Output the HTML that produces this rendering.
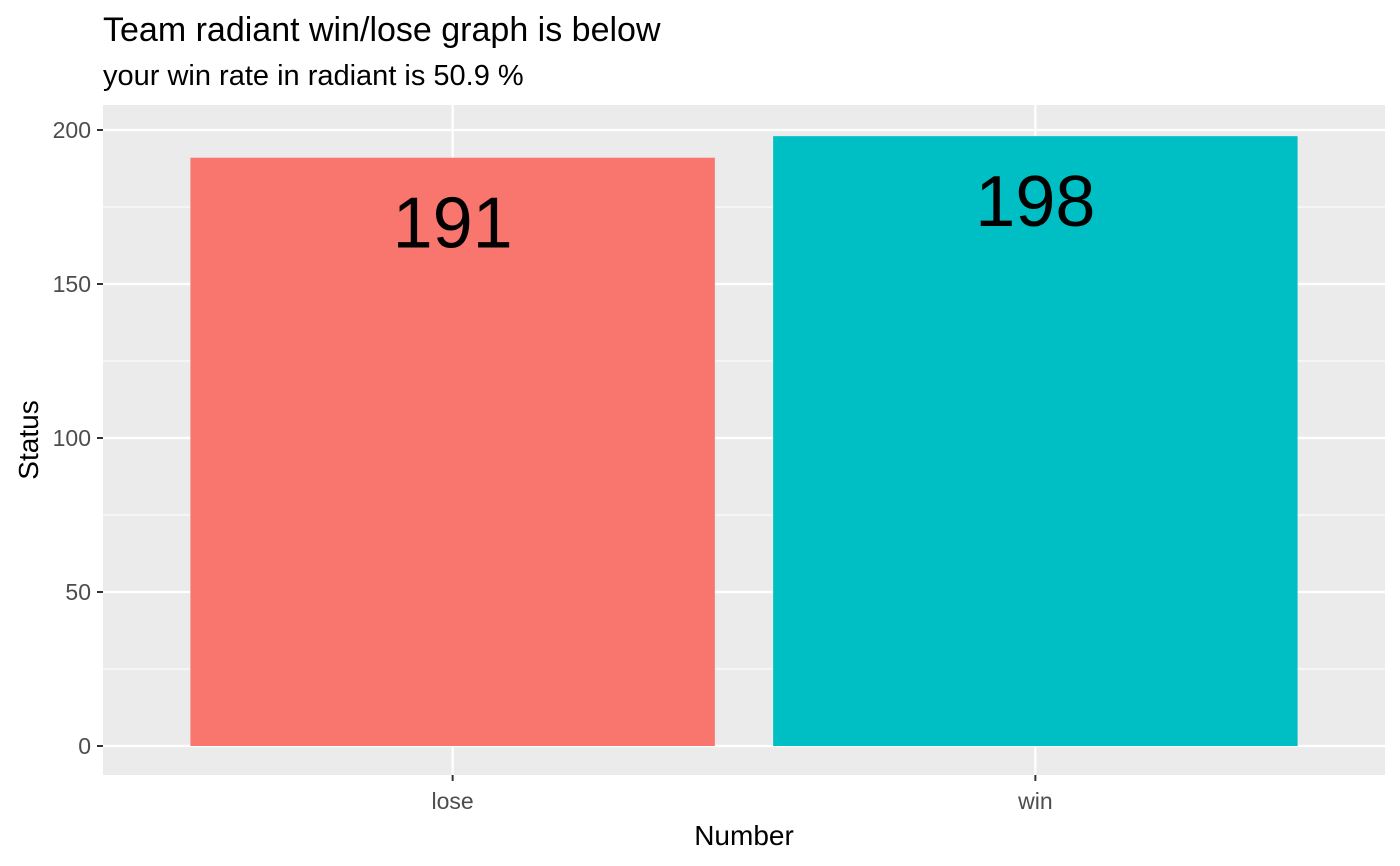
<!DOCTYPE html>
<html><head><meta charset="utf-8"><style>
html,body{margin:0;padding:0;background:#fff}
svg{display:block;font-family:"Liberation Sans",Arial,sans-serif}
</style></head><body>
<svg id="chart" width="1400" height="866" viewBox="0 0 1400 866">
<text x="103" y="41" font-size="34" fill="#000">Team radiant win/lose graph is below</text>
<text x="103" y="85" font-size="29" fill="#000">your win rate in radiant is 50.9 %</text>
<rect x="103" y="105" width="1282" height="670" fill="#ebebeb"/>
<g id="grid"></g>
<g id="bars"></g>
<g id="axes"></g>
<text x="744" y="845" font-size="28" text-anchor="middle" fill="#000">Number</text>
<text transform="translate(38,440) rotate(-90)" font-size="28" text-anchor="middle" fill="#000">Status</text>
</svg>
<script>
const categories = ["lose", "win"];
const values = [191, 198];
const yTicks = [0, 50, 100, 150, 200];
const barColors = ["#f8766d", "#00bfc4"];

const NS = "http://www.w3.org/2000/svg";
const px0 = 103, px1 = 1385, y0px = 746, y200px = 130;
const yMax = 200;
function ys(v){ return y0px - (v / yMax) * (y0px - y200px); }
const step = (px1 - px0) / (categories.length + 0.2);
function xs(i){ return px0 + step * (0.6 + i); }
const bw = step * 0.9;
function mk(tag, attrs, parent){
  const e = document.createElementNS(NS, tag);
  for (const k in attrs) e.setAttribute(k, attrs[k]);
  parent.appendChild(e); return e;
}
const grid = document.getElementById("grid");
const bars = document.getElementById("bars");
const axes = document.getElementById("axes");
for (let i = 0; i < yTicks.length - 1; i++) {
  const m = (yTicks[i] + yTicks[i+1]) / 2;
  const l = mk("line", {x1:px0, x2:px1, y1:ys(m), y2:ys(m), stroke:"#fff", "stroke-width":1.1}, grid);
  
  
}
const topMinor = ys(yTicks[yTicks.length-1]) - 25;
if (topMinor > 105) {
  const l = mk("line", {x1:px0, x2:px1, y1:topMinor, y2:topMinor, stroke:"#fff", "stroke-width":1.1}, grid);
  
  
}
yTicks.forEach(t => {
  const y = ys(t);
  const l = mk("line", {x1:px0, x2:px1, y1:y, y2:y, stroke:"#fff", "stroke-width":2.2}, grid);
  
  
  const tk = mk("line", {x1:97, x2:103, y1:y, y2:y, stroke:"#333", "stroke-width":2}, axes);
  
  
  const tx = mk("text", {x:91, y:y+8, "font-size":23, "text-anchor":"end", fill:"#4d4d4d"}, axes);
  tx.textContent = t;
  
  
});
categories.forEach((c, i) => {
  const cx = xs(i);
  const g = mk("line", {x1:cx, x2:cx, y1:105, y2:775, stroke:"#fff", "stroke-width":2.2}, grid);
  
  
  const r = mk("rect", {x:cx - bw/2, y:ys(values[i]), width:bw, height:ys(0) - ys(values[i]), fill:barColors[i]}, bars);
  
  
  const lb = mk("text", {x:cx, y:ys(values[i]) + 90, "font-size":72, "text-anchor":"middle", fill:"#000"}, bars);
  lb.textContent = values[i];
  
  
  const tk = mk("line", {x1:cx, x2:cx, y1:775, y2:781, stroke:"#333", "stroke-width":2}, axes);
  
  
  const tx = mk("text", {x:cx, y:809, "font-size":23, "text-anchor":"middle", fill:"#4d4d4d"}, axes);
  tx.textContent = c;
  
  
});
</script>
</body></html>
